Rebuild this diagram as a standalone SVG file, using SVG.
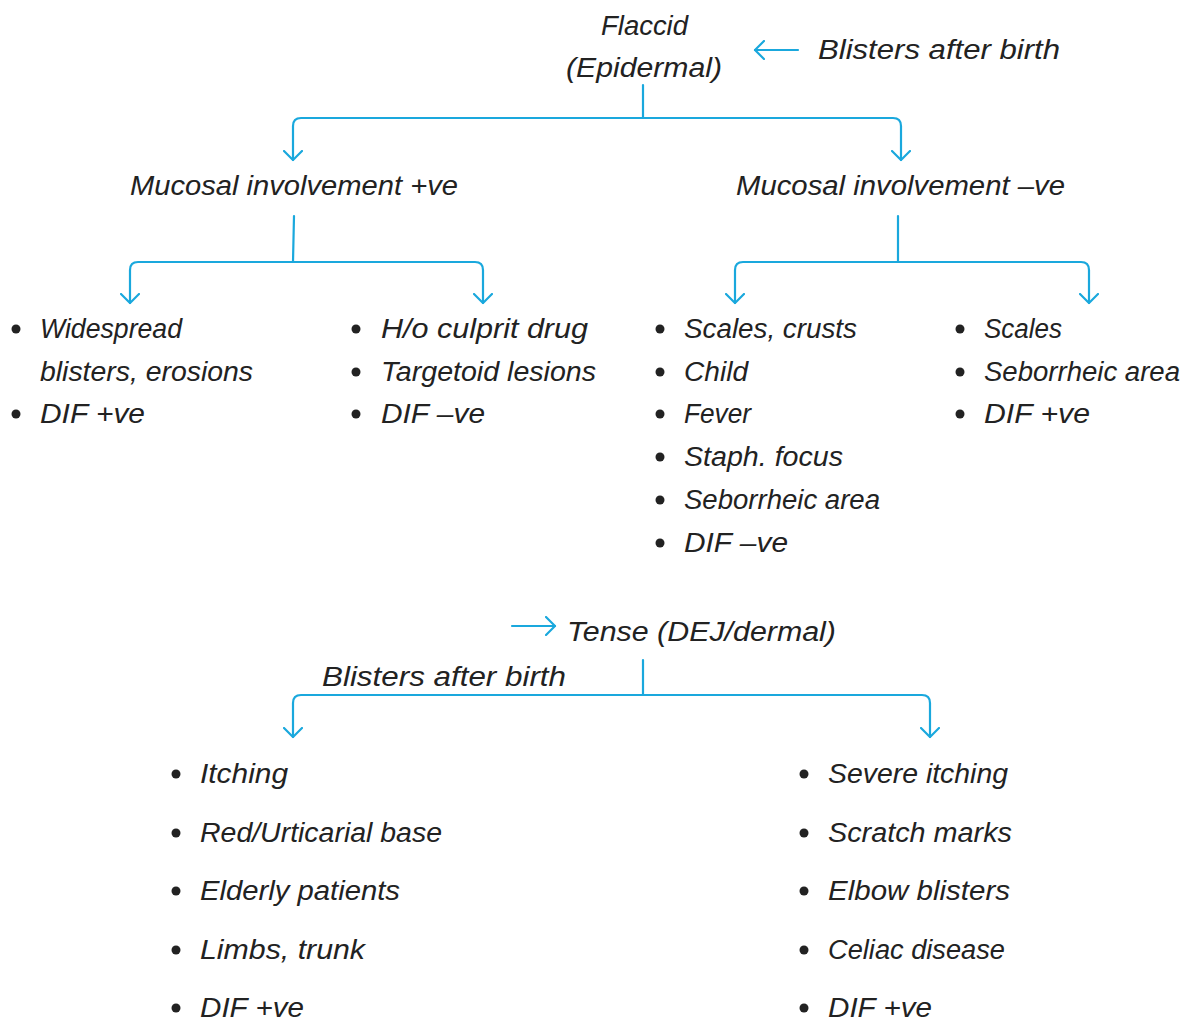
<svg xmlns="http://www.w3.org/2000/svg" width="1187" height="1022" viewBox="0 0 1187 1022">
<defs>
<style>
text{font-family:"Liberation Sans","DejaVu Sans",sans-serif;font-style:italic;font-size:27px;fill:#222;}
.c{fill:none;stroke:#1AA8DD;stroke-width:2.2;stroke-linecap:round;stroke-linejoin:round;}
.b{fill:#222;}
</style>
<marker id="ah" viewBox="0 0 20 20" refX="10" refY="10" markerWidth="20" markerHeight="20" markerUnits="userSpaceOnUse" orient="auto">
<path d="M1,1 L10,10 L1,19" fill="none" stroke="#1AA8DD" stroke-width="2.2" stroke-linecap="round" stroke-linejoin="round"/>
</marker>
</defs>
<rect width="1187" height="1022" fill="#fff"/>

<g id="connectors">
<path class="c" d="M643,85 V118"/>
<path class="c" marker-end="url(#ah)" d="M643,118 H301 Q293,118 293,126 V160"/>
<path class="c" marker-end="url(#ah)" d="M643,118 H893 Q901,118 901,126 V160"/>
<path class="c" d="M294,216 L293,262"/>
<path class="c" marker-end="url(#ah)" d="M293,262 H138 Q130,262 130,270 V303"/>
<path class="c" marker-end="url(#ah)" d="M293,262 H475 Q483,262 483,270 V303"/>
<path class="c" d="M898,216 V262"/>
<path class="c" marker-end="url(#ah)" d="M898,262 H743 Q735,262 735,270 V303"/>
<path class="c" marker-end="url(#ah)" d="M898,262 H1081 Q1089,262 1089,270 V303"/>
<path class="c" marker-end="url(#ah)" d="M798,50 H755"/>
<path class="c" marker-end="url(#ah)" d="M512,626 H555"/>
<path class="c" d="M643,660 V695"/>
<path class="c" marker-end="url(#ah)" d="M643,695 H301 Q293,695 293,703 V737"/>
<path class="c" marker-end="url(#ah)" d="M643,695 H922 Q930,695 930,703 V737"/>
</g>

<g id="flaccid">
<text x="601" y="35" textLength="87" lengthAdjust="spacingAndGlyphs">Flaccid</text>
<text x="566" y="77" textLength="156" lengthAdjust="spacingAndGlyphs">(Epidermal)</text>
</g>
<g id="blisters-top">
<text x="818" y="59" textLength="242" lengthAdjust="spacingAndGlyphs">Blisters after birth</text>
</g>
<g id="mucosal-pos">
<text x="130" y="195" textLength="328" lengthAdjust="spacingAndGlyphs">Mucosal involvement +ve</text>
</g>
<g id="mucosal-neg">
<text x="736" y="195" textLength="329" lengthAdjust="spacingAndGlyphs">Mucosal involvement –ve</text>
</g>

<g id="list1">
<circle class="b" cx="16" cy="329" r="4.5"/>
<text x="40" y="338" textLength="142" lengthAdjust="spacingAndGlyphs">Widespread</text>
<text x="40" y="381" textLength="213" lengthAdjust="spacingAndGlyphs">blisters, erosions</text>
<circle class="b" cx="16" cy="414" r="4.5"/>
<text x="40" y="423" textLength="105" lengthAdjust="spacingAndGlyphs">DIF +ve</text>
</g>
<g id="list2">
<circle class="b" cx="356" cy="329" r="4.5"/>
<text x="381" y="338" textLength="207" lengthAdjust="spacingAndGlyphs">H/o culprit drug</text>
<circle class="b" cx="356" cy="372" r="4.5"/>
<text x="381" y="381" textLength="215" lengthAdjust="spacingAndGlyphs">Targetoid lesions</text>
<circle class="b" cx="356" cy="414" r="4.5"/>
<text x="381" y="423" textLength="104" lengthAdjust="spacingAndGlyphs">DIF –ve</text>
</g>
<g id="list3">
<circle class="b" cx="660" cy="329" r="4.5"/>
<text x="684" y="338" textLength="173" lengthAdjust="spacingAndGlyphs">Scales, crusts</text>
<circle class="b" cx="660" cy="372" r="4.5"/>
<text x="684" y="381" textLength="64" lengthAdjust="spacingAndGlyphs">Child</text>
<circle class="b" cx="660" cy="414" r="4.5"/>
<text x="684" y="423" textLength="67" lengthAdjust="spacingAndGlyphs">Fever</text>
<circle class="b" cx="660" cy="457" r="4.5"/>
<text x="684" y="466" textLength="159" lengthAdjust="spacingAndGlyphs">Staph. focus</text>
<circle class="b" cx="660" cy="500" r="4.5"/>
<text x="684" y="509" textLength="196" lengthAdjust="spacingAndGlyphs">Seborrheic area</text>
<circle class="b" cx="660" cy="543" r="4.5"/>
<text x="684" y="552" textLength="104" lengthAdjust="spacingAndGlyphs">DIF –ve</text>
</g>
<g id="list4">
<circle class="b" cx="960" cy="329" r="4.5"/>
<text x="984" y="338" textLength="78" lengthAdjust="spacingAndGlyphs">Scales</text>
<circle class="b" cx="960" cy="372" r="4.5"/>
<text x="984" y="381" textLength="196" lengthAdjust="spacingAndGlyphs">Seborrheic area</text>
<circle class="b" cx="960" cy="414" r="4.5"/>
<text x="984" y="423" textLength="106" lengthAdjust="spacingAndGlyphs">DIF +ve</text>
</g>

<g id="tense">
<text x="567" y="641" textLength="269" lengthAdjust="spacingAndGlyphs">Tense (DEJ/dermal)</text>
</g>
<g id="blisters-bottom">
<text x="322" y="686" textLength="244" lengthAdjust="spacingAndGlyphs">Blisters after birth</text>
</g>

<g id="list5">
<circle class="b" cx="176" cy="774" r="4.5"/>
<text x="200" y="783" textLength="88" lengthAdjust="spacingAndGlyphs">Itching</text>
<circle class="b" cx="176" cy="833" r="4.5"/>
<text x="200" y="842" textLength="242" lengthAdjust="spacingAndGlyphs">Red/Urticarial base</text>
<circle class="b" cx="176" cy="891" r="4.5"/>
<text x="200" y="900" textLength="200" lengthAdjust="spacingAndGlyphs">Elderly patients</text>
<circle class="b" cx="176" cy="950" r="4.5"/>
<text x="200" y="959" textLength="165" lengthAdjust="spacingAndGlyphs">Limbs, trunk</text>
<circle class="b" cx="176" cy="1008" r="4.5"/>
<text x="200" y="1017" textLength="104" lengthAdjust="spacingAndGlyphs">DIF +ve</text>
</g>
<g id="list6">
<circle class="b" cx="804" cy="774" r="4.5"/>
<text x="828" y="783" textLength="180" lengthAdjust="spacingAndGlyphs">Severe itching</text>
<circle class="b" cx="804" cy="833" r="4.5"/>
<text x="828" y="842" textLength="184" lengthAdjust="spacingAndGlyphs">Scratch marks</text>
<circle class="b" cx="804" cy="891" r="4.5"/>
<text x="828" y="900" textLength="182" lengthAdjust="spacingAndGlyphs">Elbow blisters</text>
<circle class="b" cx="804" cy="950" r="4.5"/>
<text x="828" y="959" textLength="177" lengthAdjust="spacingAndGlyphs">Celiac disease</text>
<circle class="b" cx="804" cy="1008" r="4.5"/>
<text x="828" y="1017" textLength="104" lengthAdjust="spacingAndGlyphs">DIF +ve</text>
</g>
</svg>
